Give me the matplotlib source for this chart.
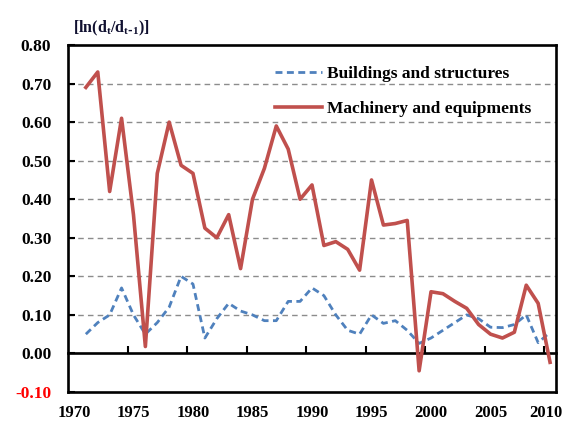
import matplotlib
matplotlib.use("Agg")
import matplotlib.pyplot as plt
import matplotlib.transforms as mtransforms
import numpy as np

# annual values, 1971-2010
years = list(range(1971, 2011))
buildings = [0.05, 0.08, 0.10, 0.17, 0.10, 0.05, 0.08, 0.12, 0.20, 0.18,
             0.04, 0.09, 0.13, 0.11, 0.10, 0.085, 0.085, 0.135, 0.135, 0.17,
             0.15, 0.10, 0.06, 0.05, 0.10, 0.078, 0.085, 0.06, 0.026, 0.04,
             0.06, 0.08, 0.10, 0.09, 0.068, 0.067, 0.075, 0.10, 0.028, 0.055]
machinery = [0.69, 0.73, 0.42, 0.61, 0.36, 0.018, 0.467, 0.60, 0.488, 0.467,
             0.325, 0.30, 0.36, 0.22, 0.40, 0.48, 0.59, 0.53, 0.40, 0.437,
             0.28, 0.29, 0.27, 0.216, 0.45, 0.333, 0.337, 0.345, -0.045, 0.16,
             0.155, 0.135, 0.117, 0.075, 0.05, 0.04, 0.055, 0.177, 0.13, -0.023]
series_names = ["Buildings and structures", "Machinery and equipments"]
year_labels = [1970, 1975, 1980, 1985, 1990, 1995, 2000, 2005, 2010]
y_ticks = [-0.1, 0.0, 0.1, 0.2, 0.3, 0.4, 0.5, 0.6, 0.7, 0.8]

plt.rcParams['font.family'] = ['Liberation Serif', 'DejaVu Serif']
plt.rcParams['font.weight'] = 'bold'
plt.rcParams['mathtext.default'] = 'regular'

fig = plt.figure(figsize=(5.64, 4.23), dpi=100)
ax = fig.add_axes([68/564, 31/423, 488/564, 347/423])

ymin, ymax = -0.1, 0.8
ax.set_xlim(1969.5, 2010.5)
ax.set_ylim(ymin, ymax)

# gridlines
for v in y_ticks:
    if 0.0 < v < 0.8:
        ax.axhline(v, color='#8c8c8c', lw=1.0, ls=(0, (4, 3)), zorder=1)

ax.plot(years, buildings, color='#4F81BD', lw=2.0, ls=(0, (2.5, 1.6)),
        label=series_names[0], zorder=3)
ax.plot(years, machinery, color='#C0504D', lw=2.6, label=series_names[1],
        zorder=4)

for s in ax.spines.values():
    s.set_linewidth(1.9)

# y axis
ax.set_yticks(y_ticks)
ax.set_yticklabels([f"{v:.2f}" for v in y_ticks])
ax.tick_params(axis='y', direction='in', length=5, width=1.5, labelsize=12.5, pad=12)
ax.get_yticklabels()[0].set_color('#ff0000')

# x labels at the bottom of the box, no tick marks
ax.set_xticks(year_labels)
ax.tick_params(axis='x', length=0, labelsize=12, pad=9)
last = ax.get_xticklabels()[-1]
last.set_transform(last.get_transform() +
                   mtransforms.ScaledTranslation(-4/100, 0, fig.dpi_scale_trans))

# zero line with category tick marks
sec = ax.secondary_xaxis((0 - ymin) / (ymax - ymin))
sec.set_xticks(np.arange(1974.5, 2010, 5))
sec.tick_params(direction='in', length=5, width=1.5, labelbottom=False)
sec.spines['bottom'].set_linewidth(1.9)

fig.text(73/564, 1 - 28/423, r"[ln(d$_t$/d$_{t\text{-}1}$)]", fontsize=11.5,
         color='#101030', va='center', ha='left')

ax.legend(loc='upper left', bbox_to_anchor=(275/564, 1 - 66/423),
          bbox_transform=fig.transFigure, frameon=False, fontsize=12.5,
          handlelength=2.7, handletextpad=0.3, labelspacing=1.1,
          borderpad=0, borderaxespad=0)

fig.savefig("out.png", dpi=100)
